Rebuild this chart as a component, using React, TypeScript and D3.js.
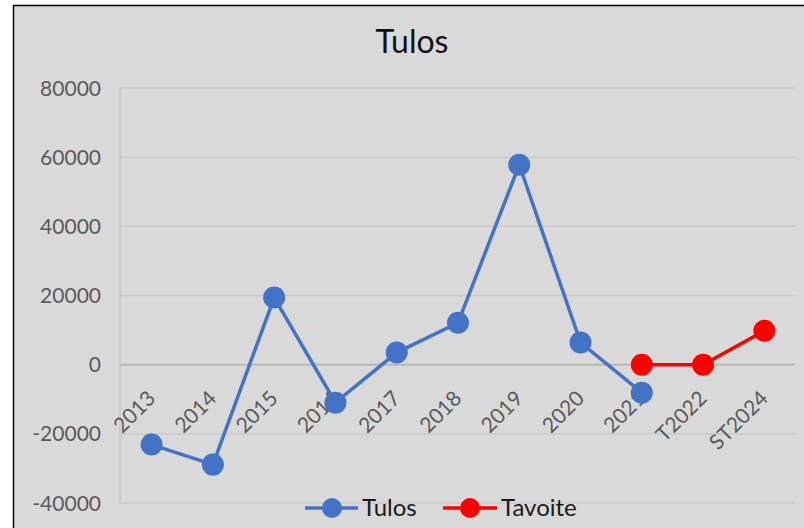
import React from "react";
import * as d3 from "d3";

// category labels along the x axis
const categories = ["2013", "2014", "2015", "2016", "2017", "2018", "2019", "2020", "2021", "T2022", "ST2024"];

// actual results ("Tulos"), 2013-2021
const tulosCats = ["2013", "2014", "2015", "2016", "2017", "2018", "2019", "2020", "2021"];
const tulosValues = [-23100, -28900, 19400, -11000, 3500, 12100, 57800, 6400, -8100];

// targets ("Tavoite")
const tavoiteCats = ["2021", "T2022", "ST2024"];
const tavoiteValues = [0, 0, 9800];

const yTicks = [-40000, -20000, 0, 20000, 40000, 60000, 80000];

const W = 804;
const H = 528;
const FONT = "Lato, 'Open Sans', sans-serif";

export default function App() {
  const x = d3.scalePoint<string>().domain(categories).range([121, 795]).padding(0.5);
  const y = d3.scaleLinear().domain([-40000, 80000]).range([503, 88]);

  const line = d3
    .line<[string, number]>()
    .x((d) => x(d[0]) as number)
    .y((d) => y(d[1]));

  const tulos: [string, number][] = tulosCats.map((c, i) => [c, tulosValues[i]]);
  const tavoite: [string, number][] = tavoiteCats.map((c, i) => [c, tavoiteValues[i]]);

  const series = [
    { name: "Tulos", color: "#4472C4", data: tulos },
    { name: "Tavoite", color: "#FF0000", data: tavoite },
  ];

  const y0 = y(0);

  return (
    <svg
      width={W}
      height={H}
      style={{ position: "absolute", left: 0, top: 0, background: "#fff" }}
    >
      <rect x={13.5} y={5.5} width={W} height={H} fill="#d9d9d9" stroke="#000" strokeWidth={1.5} />

      <text x={412} y={53} textAnchor="middle" fontFamily={FONT} fontSize={32} fill="#111">
        Tulos
      </text>

      {/* gridlines */}
      {yTicks.map((t) => (
        <line
          key={t}
          x1={120}
          x2={795}
          y1={y(t)}
          y2={y(t)}
          stroke={t === 0 ? "#b8b8b8" : "#c9c9c9"}
          strokeWidth={t === 0 ? 2 : 1.5}
        />
      ))}
      <line x1={120} x2={120} y1={y(80000)} y2={y(-40000)} stroke="#c4c4c4" strokeWidth={1.5} />

      {/* y labels */}
      {yTicks.map((t) => (
        <text
          key={t}
          x={101}
          y={y(t)}
          dy="0.36em"
          textAnchor="end"
          fontFamily={FONT}
          fontSize={21}
          fill="#595959"
        >
          {t}
        </text>
      ))}

      {/* x labels */}
      {categories.map((c) => {
        const px = (x(c) as number) + 5;
        const py = y0 + 35;
        return (
          <text
            key={c}
            x={px}
            y={py}
            transform={`rotate(-45,${px},${py})`}
            textAnchor="end"
            fontFamily={FONT}
            fontSize={21}
            fill="#595959"
          >
            {c}
          </text>
        );
      })}

      {/* lines and markers */}
      {series.map((s) => (
        <g key={s.name}>
          <path d={line(s.data) || ""} fill="none" stroke={s.color} strokeWidth={3.5} />
          {s.data.map((d) => (
            <circle key={d[0]} cx={x(d[0])} cy={y(d[1])} r={11} fill={s.color} />
          ))}
        </g>
      ))}

      {/* legend */}
      <g>
        <line x1={305} x2={358} y1={508} y2={508} stroke="#4472C4" strokeWidth={3.5} />
        <circle cx={332} cy={508} r={10} fill="#4472C4" />
        <text x={362} y={516} fontFamily={FONT} fontSize={24} fill="#1a1a1a">
          Tulos
        </text>
        <line x1={443} x2={497} y1={508} y2={508} stroke="#FF0000" strokeWidth={3.5} />
        <circle cx={470} cy={508} r={10} fill="#FF0000" />
        <text x={501} y={516} fontFamily={FONT} fontSize={24} fill="#1a1a1a">
          Tavoite
        </text>
      </g>
    </svg>
  );
}
